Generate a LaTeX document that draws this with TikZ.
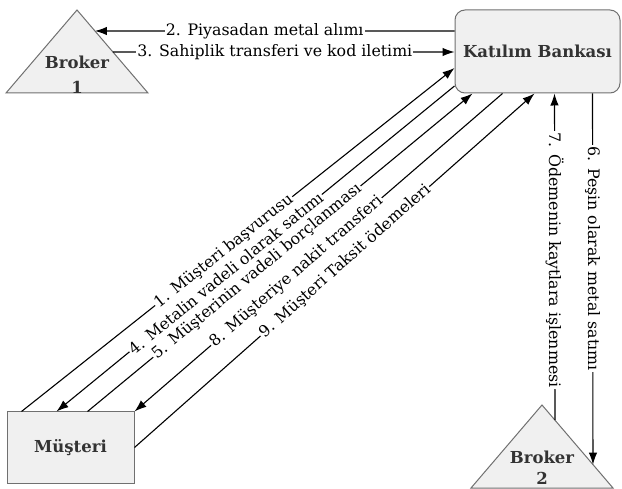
\documentclass[tikz,border=0pt]{standalone}
\usepackage{fontspec}
\setmainfont{DejaVu Serif}
\usetikzlibrary{arrows.meta,calc}
\definecolor{boxfill}{HTML}{F0F0F0}
\definecolor{boxline}{HTML}{707070}
\definecolor{boxtext}{HTML}{333333}
\tikzset{
  conn/.style={line width=1.1pt, draw=black},
  arr/.style={conn, -{Latex[length=12pt,width=8.5pt]}},
  lbl/.style={fill=white, inner sep=1.2pt, text=black, font=\fontsize{15.8}{17}\selectfont},
  boxstyle/.style={draw=boxline, fill=boxfill, line width=1pt, text=boxtext, font=\bfseries\fontsize{16.5}{18}\selectfont, inner sep=0pt},
  trishape/.style={draw=boxline, fill=boxfill, line width=1pt, line join=miter},
  tritext/.style={text=boxtext, font=\bfseries\fontsize{16.5}{18}\selectfont, align=center, inner sep=0pt}
}
\begin{document}
\begin{tikzpicture}[x=1pt,y=-1pt]
\useasboundingbox (0,0) rectangle (622,489);
% Broker 1
\coordinate (b1top) at (77,10);
\coordinate (b1right) at (148,93);
\coordinate (b1left) at (6,93);
\draw[trishape] (b1top) -- (b1right) -- (b1left) -- cycle;
\node[tritext] (b1name) at (77,62) {Broker};
\node[tritext] (b1num) at (77,87) {1};
% Broker 2
\coordinate (b2top) at (542,405);
\coordinate (b2right) at (613,488);
\coordinate (b2left) at (471,488);
\draw[trishape] (b2top) -- (b2right) -- (b2left) -- cycle;
\node[tritext] (b2name) at (542,457) {Broker};
\node[tritext] (b2num) at (542,478) {2};
% Bank
\node[boxstyle, rounded corners=10pt, minimum width=165pt, minimum height=83pt] (bank) at (537.5,51.5) {Katılım Bankası};
% Customer
\node[boxstyle, minimum width=127pt, minimum height=71pt] (cust) at (70.5,447.5) {Müşteri};
% edge points on triangles
\coordinate (b1in) at ($(b1top)!0.253!(b1right)$);
\coordinate (b1out) at ($(b1top)!0.506!(b1right)$);
\coordinate (b2in) at ($(b2top)!0.718!(b2right)$);
\coordinate (b2out) at ($(b2top)!0.183!(b2right)$);
% 2 and 3
\draw[arr] (bank.west |- 0,31) -- node[lbl, pos=0.528] {2. Piyasadan metal alımı} (b1in);
\draw[arr] (b1out) -- node[lbl, pos=0.474] {3. Sahiplik transferi ve kod iletimi} (bank.west |- 0,52);
% diagonals
\draw[arr] ($(cust.north west)+(15,0)$) -- node[lbl, sloped, pos=0.467] {1. Müşteri başvurusu} (bank.west |- 0,68);
\draw[arr] (bank.west |- 0,86) -- node[lbl, sloped, pos=0.575] {4. Metalin vadeli olarak satımı} ($(cust.north west)+(50,0)$);
\draw[arr] ($(cust.north west)+(81,0)$) -- node[lbl, sloped, pos=0.44] {5. Müşterinin vadeli borçlanması} ($(bank.south west)+(18,0)$);
\draw[arr] ($(bank.south west)+(48,0)$) -- node[lbl, sloped, pos=0.56] {8. Müşteriye nakit transferi} (cust.north east);
\draw[arr] (cust.east) -- node[lbl, sloped, pos=0.526] {9. Müşteri Taksit ödemeleri} ($(bank.south west)+(80,0)$);
% verticals
\draw[arr] ($(bank.south west)+(138,0)$) -- node[lbl, rotate=-90, pos=0.445] {6. Peşin olarak metal satımı} (b2in);
\draw[arr] (b2out) -- node[lbl, rotate=-90, pos=0.49] {7. Ödemenin kaytlara işlenmesi} ($(bank.south west)+(100,0)$);
\end{tikzpicture}
\end{document}
